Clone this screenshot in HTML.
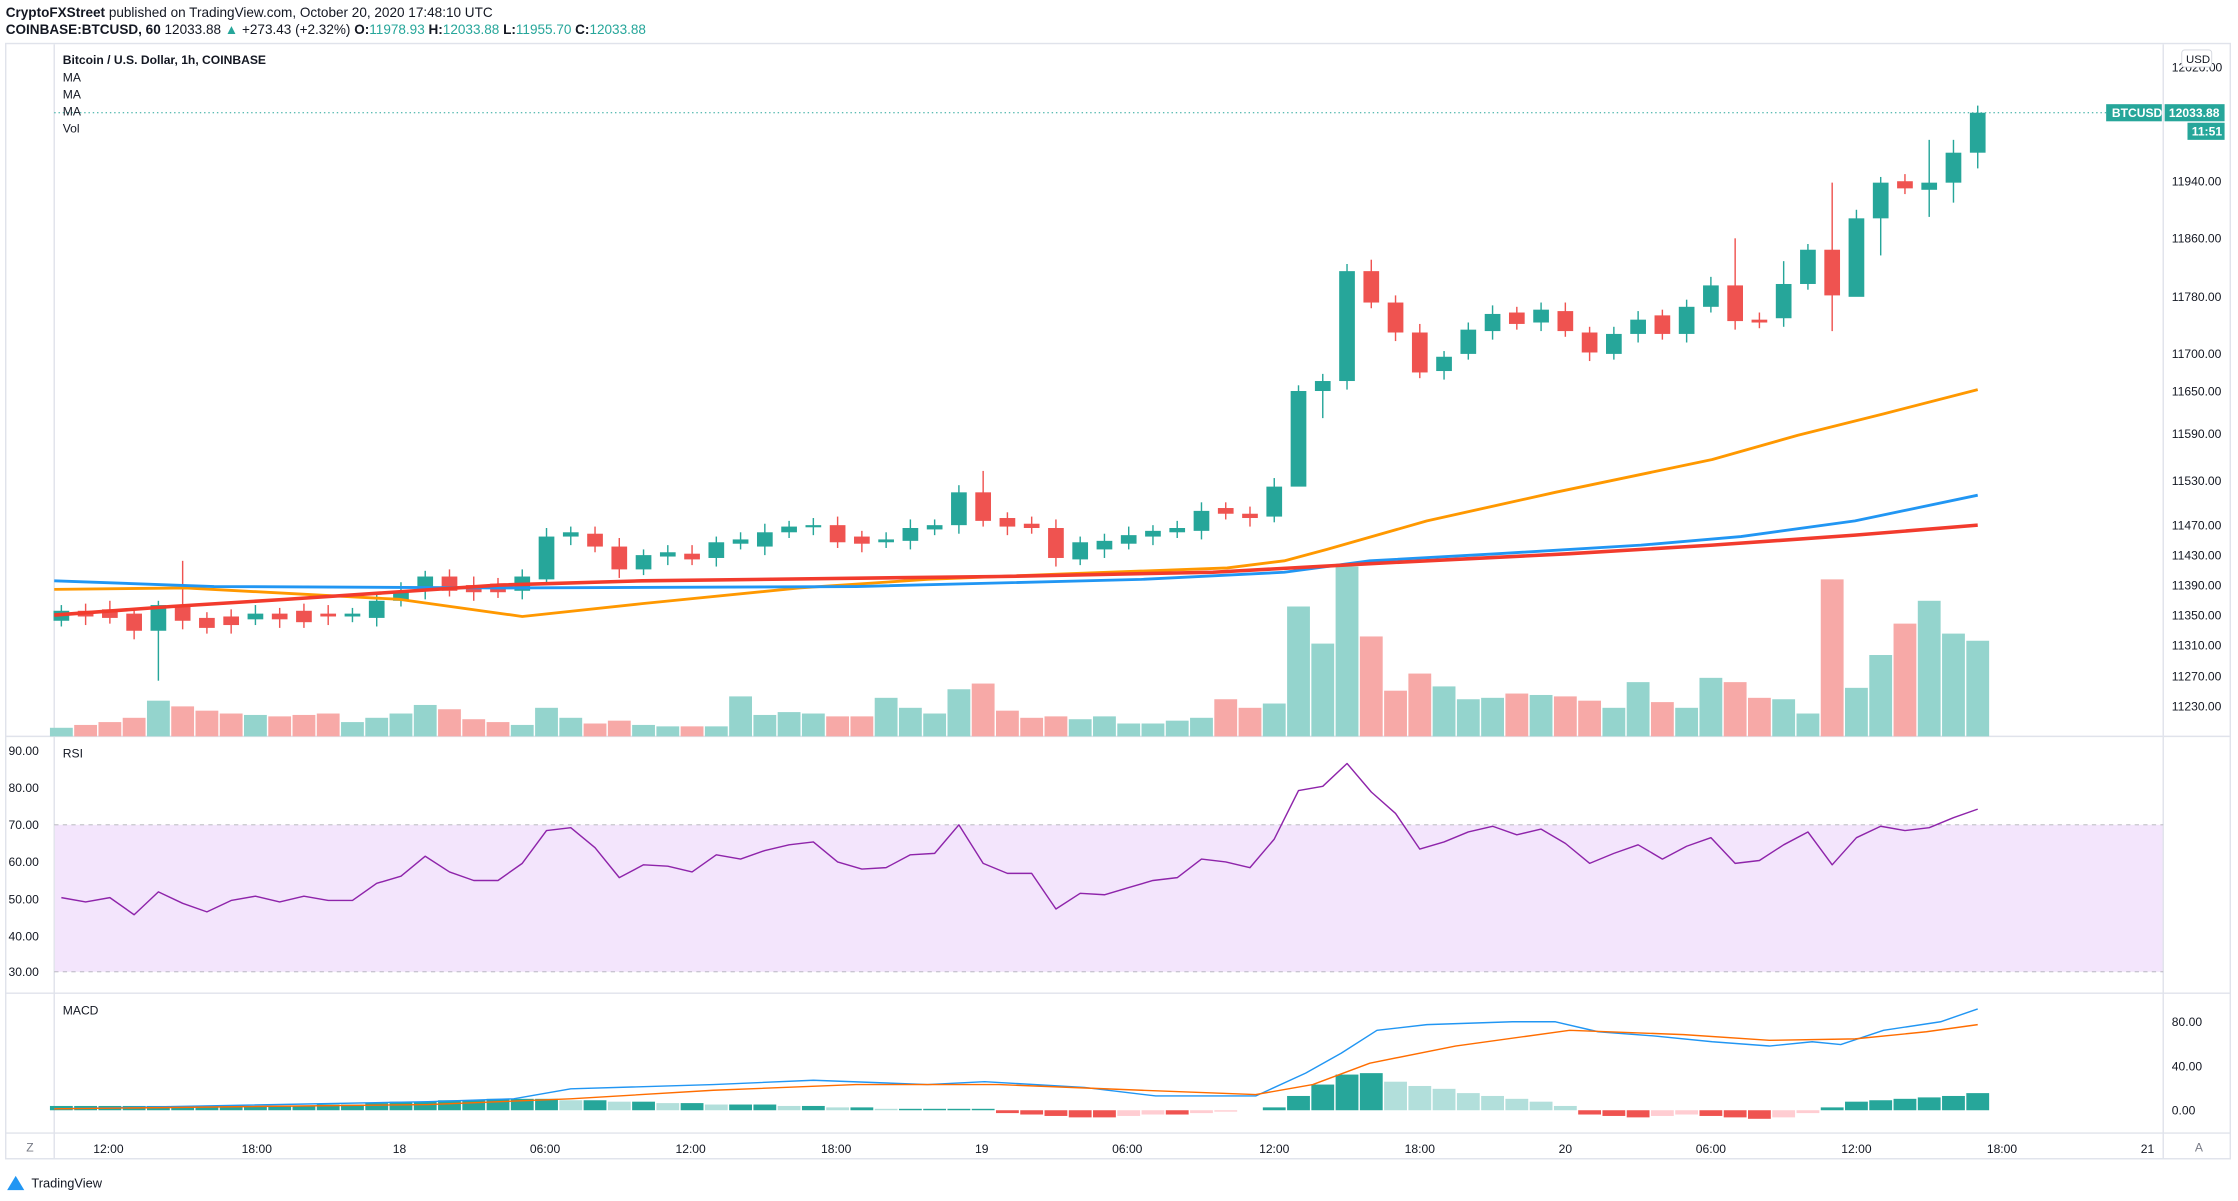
<!DOCTYPE html>
<html><head><meta charset="utf-8"><style>
html,body{margin:0;padding:0;background:#fff;}
svg{display:block;}
text{font-family:"Liberation Sans",sans-serif;}
</style></head><body>
<svg id="s" width="2238" height="1201" viewBox="0 0 1568.4 841.6" preserveAspectRatio="none" xmlns="http://www.w3.org/2000/svg">
<rect width="1568.4" height="841.6" fill="#fff"/>
<text x="4" y="12" font-size="9.5" fill="#131722"><tspan font-weight="bold">CryptoFXStreet</tspan> published on TradingView.com, October 20, 2020 17:48:10 UTC</text>
<text x="4" y="24" font-size="9.5" fill="#131722"><tspan font-weight="bold">COINBASE:BTCUSD, 60</tspan> 12033.88 <tspan fill="#26a69a">▲</tspan> +273.43 (+2.32%) <tspan font-weight="bold">O:</tspan><tspan fill="#26a69a">11978.93</tspan> <tspan font-weight="bold">H:</tspan><tspan fill="#26a69a">12033.88</tspan> <tspan font-weight="bold">L:</tspan><tspan fill="#26a69a">11955.70</tspan> <tspan font-weight="bold">C:</tspan><tspan fill="#26a69a">12033.88</tspan></text>
<rect x="4" y="30.5" width="1559" height="781.5" fill="none" stroke="#e0e3eb" stroke-width="1"/>
<line x1="38" y1="31" x2="38" y2="812" stroke="#e0e3eb"/>
<line x1="1516" y1="31" x2="1516" y2="812" stroke="#e0e3eb"/>
<line x1="4" y1="516" x2="1563" y2="516" stroke="#e0e3eb"/>
<line x1="4" y1="696" x2="1563" y2="696" stroke="#e0e3eb"/>
<line x1="4" y1="794" x2="1563" y2="794" stroke="#e0e3eb"/>
<rect x="38.5" y="578" width="1477" height="103" fill="#f3e5fc"/>
<line x1="38" y1="578" x2="1516" y2="578" stroke="#b0b0b8" stroke-dasharray="3,3" stroke-width="0.6"/>
<line x1="38" y1="681" x2="1516" y2="681" stroke="#b0b0b8" stroke-dasharray="3,3" stroke-width="0.6"/>
<g id="g"></g>
<line x1="38" y1="79" x2="1516" y2="79" stroke="#26a69a" stroke-dasharray="1,2" stroke-width="0.7"/>
<text x="44" y="45" font-size="8.5" font-weight="bold" fill="#131722">Bitcoin / U.S. Dollar, 1h, COINBASE</text>
<text x="44" y="57" font-size="8.5" fill="#131722">MA</text>
<text x="44" y="69" font-size="8.5" fill="#131722">MA</text>
<text x="44" y="81" font-size="8.5" fill="#131722">MA</text>
<text x="44" y="93" font-size="8.5" fill="#131722">Vol</text>
<text x="44" y="531" font-size="8.5" fill="#131722">RSI</text>
<text x="44" y="711" font-size="8.5" fill="#131722">MACD</text>
<g font-size="8.5" fill="#131722">
<text x="1522" y="50">12020.00</text>
<text x="1522" y="130">11940.00</text>
<text x="1522" y="170">11860.00</text>
<text x="1522" y="211">11780.00</text>
<text x="1522" y="251">11700.00</text>
<text x="1522" y="277">11650.00</text>
<text x="1522" y="307">11590.00</text>
<text x="1522" y="340">11530.00</text>
<text x="1522" y="371">11470.00</text>
<text x="1522" y="392">11430.00</text>
<text x="1522" y="413">11390.00</text>
<text x="1522" y="434">11350.00</text>
<text x="1522" y="455">11310.00</text>
<text x="1522" y="477">11270.00</text>
<text x="1522" y="498">11230.00</text>
<text x="6" y="529">90.00</text>
<text x="6" y="555">80.00</text>
<text x="6" y="581">70.00</text>
<text x="6" y="607">60.00</text>
<text x="6" y="633">50.00</text>
<text x="6" y="659">40.00</text>
<text x="6" y="684">30.00</text>
<text x="1522" y="719">80.00</text>
<text x="1522" y="750">40.00</text>
<text x="1522" y="781">0.00</text>
</g>
<rect x="1529" y="35" width="21" height="12" rx="2" fill="#fff" stroke="#d1d4dc" stroke-width="0.6"/>
<text x="1532" y="44" font-size="8" fill="#131722">USD</text>
<rect x="1476" y="73" width="39" height="12" fill="#26a69a"/>
<text x="1480" y="82" font-size="8.5" font-weight="bold" fill="#fff">BTCUSD</text>
<rect x="1517" y="73" width="42" height="12" fill="#26a69a"/>
<text x="1520" y="82" font-size="8.5" font-weight="bold" fill="#fff">12033.88</text>
<rect x="1533" y="86" width="26" height="12" fill="#26a69a"/>
<text x="1536" y="95" font-size="8.5" font-weight="bold" fill="#fff">11:51</text>
<g font-size="8.5" fill="#131722" text-anchor="middle">
<text x="76" y="808">12:00</text><text x="180" y="808">18:00</text><text x="280" y="808">18</text>
<text x="382" y="808">06:00</text><text x="484" y="808">12:00</text><text x="586" y="808">18:00</text>
<text x="688" y="808">19</text><text x="790" y="808">06:00</text><text x="893" y="808">12:00</text>
<text x="995" y="808">18:00</text><text x="1097" y="808">20</text><text x="1199" y="808">06:00</text>
<text x="1301" y="808">12:00</text><text x="1403" y="808">18:00</text><text x="1505" y="808">21</text>
<text x="21" y="807" fill="#787b86">Z</text><text x="1541" y="807" fill="#787b86">A</text>
</g>
<path d="M5 834 L11 824 L17 834 Z" fill="#2196f3"/>
<text x="22" y="832" font-size="9" fill="#131722">TradingView</text>
</svg>
<script>
var NS="http://www.w3.org/2000/svg",g=document.getElementById("g");
function el(t,a){var e=document.createElementNS(NS,t);for(var k in a)e.setAttribute(k,a[k]);g.appendChild(e);return e;}
var C=[[435,428],[428,432],[427,433],[430,442],[442,424],[424,435],[433,440],[432,438],[434,430],[430,434],[428,436],[430,432],[432,430],[433,421],[421,414],[414,404],[404,414],[410,415],[409,415],[414,404],[406,376],[376,373],[374,383],[383,399],[399,389],[390,387],[388,392],[391,380],[381,378],[383,373],[373,369],[369,368],[368,380],[376,381],[380,378],[379,370],[371,368],[368,345],[345,365],[363,369],[367,370],[370,391],[392,380],[385,379],[381,375],[376,372],[373,370],[372,358],[356,360],[360,363],[362,341],[341,274],[274,267],[267,190],[190,212],[212,233],[233,261],[260,250],[248,231],[232,220],[219,227],[226,217],[218,232],[233,247],[248,234],[234,224],[221,234],[234,215],[215,200],[200,225],[224,226],[223,199],[199,175],[175,207],[208,153],[153,128],[127,132],[133,128],[128,107],[107,79]];
var W={5:[393,null],4:[421,477],38:[330,null],52:[null,293],53:[185,null],54:[182,null],69:[167,null],73:[128,232],74:[null,180],75:[null,179],77:[98,152],78:[98,142],79:[null,118],71:[183,null],51:[null,293]};
var V=[510,508,506,503,491,495,498,500,501,502,501,500,506,503,500,494,497,504,506,508,496,503,507,505,508,509,509,509,488,501,499,500,502,502,489,496,500,483,479,498,503,502,504,502,507,507,505,503,490,496,493,425,451,397,446,484,472,481,490,489,486,487,488,491,496,478,492,496,475,478,489,490,500,406,482,459,437,421,444,449];
for(var i=0;i<C.length;i++){var x=43+i*17,o=C[i][0],c=C[i][1],up=c<=o,col=up?"#26a69a":"#ef5350";
var v=V[i];el("rect",{x:x-8,y:v,width:16,height:516-v,fill:up?"#94d4cd":"#f7a9a7"});}
for(var i=0;i<C.length;i++){var x=43+i*17,o=C[i][0],c=C[i][1],up=c<=o,col=up?"#26a69a":"#ef5350";
var t=Math.min(o,c),b=Math.max(o,c),h=t-4-(i%3),l=b+4+(i%2)*2;if(W[i]){if(W[i][0])h=W[i][0];if(W[i][1])l=W[i][1];}
el("line",{x1:x,y1:h,x2:x,y2:l,stroke:col,"stroke-width":1});
el("rect",{x:x-5.5,y:t,width:11,height:Math.max(b-t,1.5),fill:col});}
function pl(p,col,w){el("polyline",{points:p.map(function(a){return a.join(",")}).join(" "),fill:"none",stroke:col,"stroke-width":w,"stroke-linejoin":"round"});}
pl([[38,413],[130,412],[280,420],[366,432],[450,423],[560,412],[650,406],[750,402],[860,398],[900,393],[930,385],[1000,365],[1090,345],[1200,322],[1260,305],[1320,290],[1386,273]],"#ff9800",2);
pl([[38,407],[150,411],[350,412],[600,411],[800,406],[900,401],[960,393],[1050,388],[1150,382],[1220,376],[1300,365],[1386,347]],"#2196f3",2);
pl([[38,431],[120,425],[200,420],[350,410],[450,407],[700,404],[850,401],[960,395],[1100,388],[1200,382],[1300,375],[1386,368]],"#f23b2d",2.5);
var R=[629,632,629,641,625,633,639,631,628,632,628,631,631,619,614,600,611,617,617,605,582,580,594,615,606,607,611,599,602,596,592,590,604,609,608,599,598,578,605,612,612,637,626,627,622,617,615,602,604,608,588,554,551,535,555,570,595,590,583,579,585,581,591,605,598,592,602,593,587,605,603,592,583,606,587,579,582,580,573,567];
pl(R.map(function(y,i){return [43+i*17,y]}),"#8e24aa",1);
var H=[3,3,3,3,3,3,3,3,3,3,3,4,4,5,6,6,7,7,8,8,8,7,7,6,6,5,5,4,4,4,3,3,2,2,1,1,1,1,1,-2,-3,-4,-5,-5,-4,-3,-3,-2,-1,0,2,10,18,25,26,20,17,15,12,10,8,6,3,-3,-4,-5,-4,-3,-4,-5,-6,-5,-2,2,6,7,8,9,10,12];
for(var i=0;i<H.length;i++){var x=43+i*17,v=H[i],p=i?H[i-1]:0,col;
if(v>=0)col=v>=p?"#26a69a":"#b2dfdb";else col=v<=p?"#ef5350":"#ffcdd2";
if(v==0)continue;el("rect",{x:x-8,y:v>0?778-v:778,width:16,height:Math.abs(v),fill:col});}
pl([[38,777],[300,772],[360,770],[400,763],[500,760],[570,757],[650,760],[690,758],[760,762],[810,768],[880,768],[915,752],[940,738],[965,722],[1000,718],[1060,716],[1090,716],[1120,723],[1160,726],[1200,730],[1240,733],[1270,730],[1290,732],[1320,722],[1360,716],[1386,707]],"#2196f3",1);
pl([[38,777],[300,774],[400,770],[500,764],[600,760],[700,760],[800,764],[880,767],[920,760],[960,745],[1020,733],[1100,722],[1180,725],[1240,729],[1300,728],[1350,723],[1386,718]],"#ff6d00",1);
</script>
</body></html>
